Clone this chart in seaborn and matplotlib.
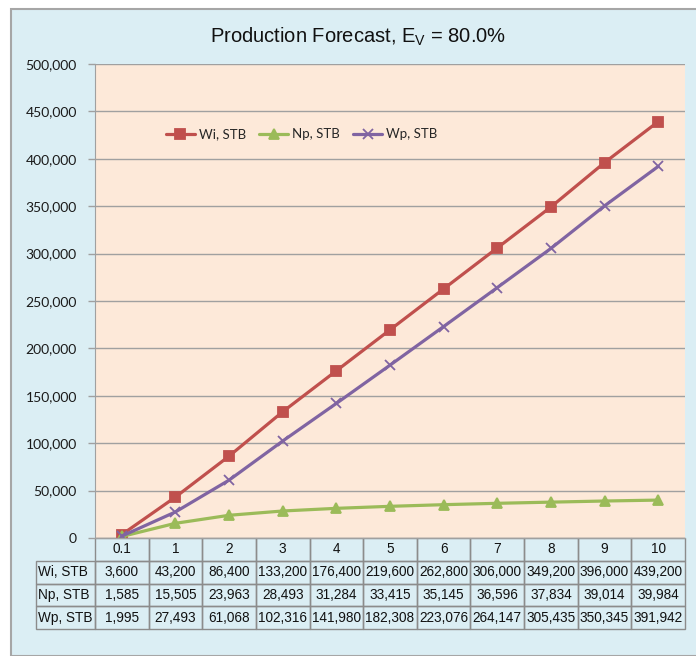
import numpy as np
import pandas as pd
import matplotlib
matplotlib.use('Agg')
from matplotlib import pyplot as plt
from matplotlib.patches import Rectangle
from matplotlib.ticker import FuncFormatter
import seaborn as sns

t_labels = ['0.1', '1', '2', '3', '4', '5', '6', '7', '8', '9', '10']
wi = [3600, 43200, 86400, 133200, 176400, 219600, 262800, 306000, 349200, 396000, 439200]
np_ = [1585, 15505, 23963, 28493, 31284, 33415, 35145, 36596, 37834, 39014, 39984]
wp = [1995, 27493, 61068, 102316, 141980, 182308, 223076, 264147, 305435, 350345, 391942]
series_names = ['Wi, STB', 'Np, STB', 'Wp, STB']
colors = ['#C0504D', '#9BBB59', '#8064A2']

df = pd.DataFrame({'t': t_labels * 3,
                   'value': wi + np_ + wp,
                   'series': np.repeat(series_names, len(t_labels))})

sns.set_style('white')
plt.rcParams['font.family'] = ['Lato', 'DejaVu Sans']
plt.rcParams['mathtext.fontset'] = 'custom'
plt.rcParams['mathtext.rm'] = 'Liberation Sans'
plt.rcParams['mathtext.it'] = 'Liberation Sans'

W, H = 696, 656
fig = plt.figure(figsize=(W / 100, H / 100), dpi=100, facecolor='white')

# chart area background
fig.patches.append(Rectangle((11 / W, 0), 1, 1 - 9 / H, transform=fig.transFigure,
                             facecolor='#DBEEF4', edgecolor='#A6A6A6', linewidth=1.5, zorder=-5))

ax = fig.add_axes([95 / W, (H - 538) / H, 590 / W, (538 - 64) / H])
ax.set_facecolor('#FDE9D9')

sns.pointplot(data=df, x='t', y='value', hue='series', order=t_labels,
              hue_order=series_names, palette=colors, markers=['s', '^', 'x'],
              linestyles='-', errorbar=None, ax=ax, markersize=7.5, linewidth=2.3,
              markeredgewidth=1.3)

ax.set_ylim(0, 500000)
ax.set_yticks(np.arange(0, 500001, 50000))
ax.yaxis.set_major_formatter(FuncFormatter(lambda v, p: f'{int(v):,}'))
ax.grid(axis='y', color='#A0A0A0', linewidth=1)
ax.set_axisbelow(True)
ax.set_xlabel('')
ax.set_ylabel('')
ax.set_xticklabels([])
ax.tick_params(axis='x', length=0)
ax.tick_params(axis='y', length=5, width=1, color='#A0A0A0', labelsize=10,
               labelcolor='#1a1a1a', left=True, pad=8)
for s in ['top', 'right']:
    ax.spines[s].set_visible(False)
ax.spines['left'].set_color('#A0A0A0')
ax.spines['bottom'].set_color('#A0A0A0')

handles, labels = ax.get_legend_handles_labels()
ax.legend(handles, labels, loc='center left', bbox_to_anchor=(0.1, 0.852),
          ncol=3, frameon=False, fontsize=9.5, handlelength=2.2, handletextpad=0.3,
          columnspacing=1.0)

fig.text(358 / W, 1 - 37 / H, 'Production Forecast, E$_\\mathrm{V}$ = 80.0%',
         ha='center', va='center', fontsize=14.5, color='#111111',
         family=['Liberation Sans', 'DejaVu Sans'])

# data table under the axis
cell_text = [[''] + t_labels,
             ['Wi, STB'] + [f'{v:,}' for v in wi],
             ['Np, STB'] + [f'{v:,}' for v in np_],
             ['Wp, STB'] + [f'{v:,}' for v in wp]]
lw = 59 / 590
tbl = ax.table(cellText=cell_text, cellLoc='center',
               colWidths=[lw] + [1 / 11] * 11,
               bbox=[-lw, -91 / 474, 1 + lw, 91 / 474])
tbl.auto_set_font_size(False)
for (r, c), cell in tbl.get_celld().items():
    cell.set_facecolor('none')
    cell.set_edgecolor('#8C8C8C')
    cell.set_linewidth(1)
    cell.get_text().set_fontsize(9.8)
    cell.get_text().set_fontfamily(['Liberation Sans', 'DejaVu Sans'])
    cell.get_text().set_color('#111111')
    if c == 0:
        cell.get_text().set_ha('left')
        cell._loc = 'left'
        cell.PAD = 0.04
    if r == 0 and c == 0:
        cell.set_edgecolor('none')

fig.savefig('out.png', dpi=100, facecolor='white')
